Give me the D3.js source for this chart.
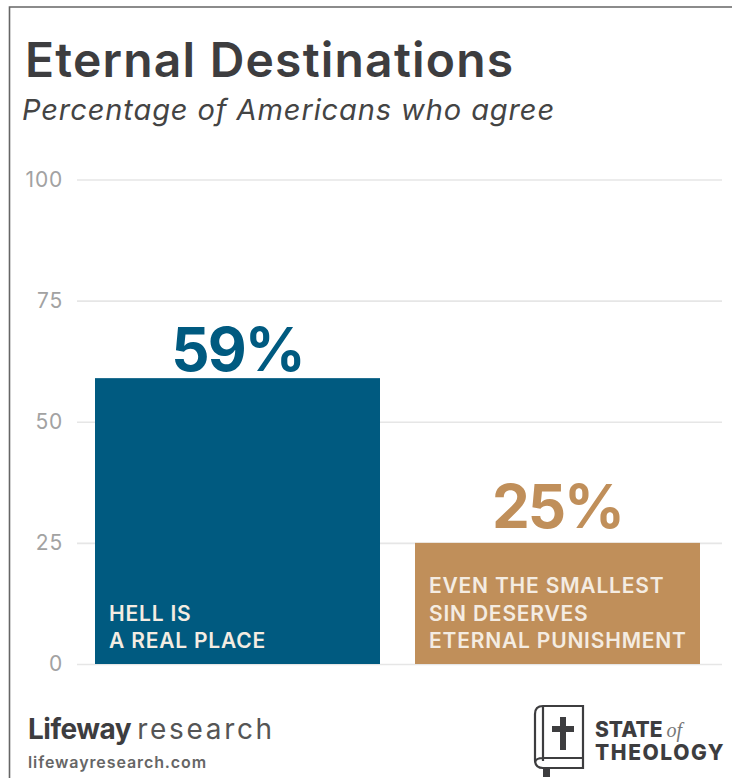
<!DOCTYPE html>
<html>
<head>
<meta charset="utf-8">
<script src="https://cdn.jsdelivr.net/npm/d3@7"></script>
<style>
html,body{margin:0;padding:0;background:#fff;}
svg{display:block;font-family:Inter,sans-serif;}
</style>
</head>
<body>
<svg id="chart" width="732" height="778"></svg>
<script>
const categories = ["hell", "sin"];
const values = [59, 25];
const valueLabels = ["59%", "25%"];
const barColors = ["#005a80", "#c08f5a"];
const barLines = [
  ["HELL IS", "A REAL PLACE"],
  ["EVEN THE SMALLEST", "SIN DESERVES", "ETERNAL PUNISHMENT"]
];
const yTicks = [0, 25, 50, 75, 100];

const svg = d3.select("#chart");
const y = d3.scaleLinear().domain([0, 100]).range([664, 179.5]);
const x = d3.scalePoint().domain(categories).range([95, 415]);
const barW = 285;

// Page frame: top and left rules only
svg.append("path").attr("d", "M9.5,778V7H732").attr("fill", "none").attr("stroke", "#666").attr("stroke-width", 1.6);

// Heading
svg.append("text").attr("x", 25).attr("y", 77).attr("font-size", 48).attr("font-weight", 600)
  .attr("letter-spacing", 1.2).attr("fill", "#3d3d3f").text("Eternal Destinations");
svg.append("text").attr("x", 22).attr("y", 120).attr("font-size", 29).attr("font-style", "italic")
  .attr("letter-spacing", 0.9).attr("fill", "#444").text("Percentage of Americans who agree");

// Value axis with gridlines
const axis = d3.axisLeft(y).tickValues(yTicks).tickSize(-645).tickPadding(14);
const gAxis = svg.append("g").attr("transform", "translate(77,0)").call(axis);
gAxis.select(".domain").remove();
gAxis.selectAll(".tick line").attr("stroke", "#e6e6e6").attr("stroke-width", 1.6);
gAxis.selectAll(".tick text").attr("x", -14).attr("font-size", 21).attr("letter-spacing", 0.8)
  .attr("fill", "#a2a2a2").attr("font-family", "Inter,sans-serif");

// Bars
svg.selectAll("rect.bar").data(categories).join("rect").attr("class", "bar")
  .attr("x", c => x(c)).attr("width", barW)
  .attr("y", (c, i) => y(values[i]))
  .attr("height", (c, i) => y(0) - y(values[i]))
  .attr("fill", (c, i) => barColors[i]);

// Value labels above the bars
svg.selectAll("text.val").data(categories).join("text").attr("class", "val")
  .attr("x", c => x(c) + barW / 2)
  .attr("y", (c, i) => y(values[i]) - (i === 0 ? 7 : 15))
  .attr("text-anchor", "middle").attr("font-size", 60).attr("font-weight", 700).attr("letter-spacing", -2)
  .attr("fill", (c, i) => barColors[i]).text((c, i) => valueLabels[i]);

// Captions inside the bars, anchored to the baseline
categories.forEach((c, i) => {
  const lines = barLines[i];
  lines.forEach((line, j) => {
    svg.append("text").attr("x", x(c) + 14)
      .attr("y", y(0) - 16 - (lines.length - 1 - j) * 27.5)
      .attr("font-size", 21).attr("font-weight", 600).attr("letter-spacing", 0.8)
      .attr("fill", "#f4ece2").text(line);
  });
});

// Footer: publisher
const pub = svg.append("text").attr("x", 28).attr("y", 739).attr("font-size", 28).attr("fill", "#3d3d3f");
pub.append("tspan").attr("font-weight", 700).attr("letter-spacing", -0.5).text("Lifeway");
pub.append("tspan").attr("dx", 6).attr("fill", "#555").attr("letter-spacing", 2.7).text("research");
svg.append("text").attr("x", 28).attr("y", 768).attr("font-size", 16).attr("font-weight", 600)
  .attr("letter-spacing", 0.9).attr("fill", "#666").text("lifewayresearch.com");

// Footer: book emblem
const book = svg.append("g").attr("fill", "none").attr("stroke", "#3d3d3f").attr("stroke-width", 2.2);
book.append("path").attr("d", "M543,706H583V768H543Q535,768 535,760V714Q535,706 543,706Z");
book.append("path").attr("d", "M543,706V761M535,762Q536,758 543,758H583");
svg.append("path").attr("d", "M543,768H550V777H543Z").attr("fill", "#3d3d3f");
svg.append("path").attr("d", "M560,717H566V726H574V732H566V750H560V732H552V726H560Z").attr("fill", "#3d3d3f");

// Footer: survey name
const st = svg.append("text").attr("x", 595).attr("y", 737).attr("font-size", 21).attr("font-weight", 800).attr("fill", "#3d3d3f");
st.append("tspan").text("STATE");
st.append("tspan").attr("dx", 4).attr("font-family", "'Liberation Serif',serif").attr("font-style", "italic").attr("font-weight", 400).attr("font-size", 20).attr("fill", "#777").text("of");
svg.append("text").attr("x", 595).attr("y", 760).attr("font-size", 21).attr("font-weight", 800).attr("letter-spacing", 1.6).attr("fill", "#3d3d3f").text("THEOLOGY");
</script>
</body>
</html>
